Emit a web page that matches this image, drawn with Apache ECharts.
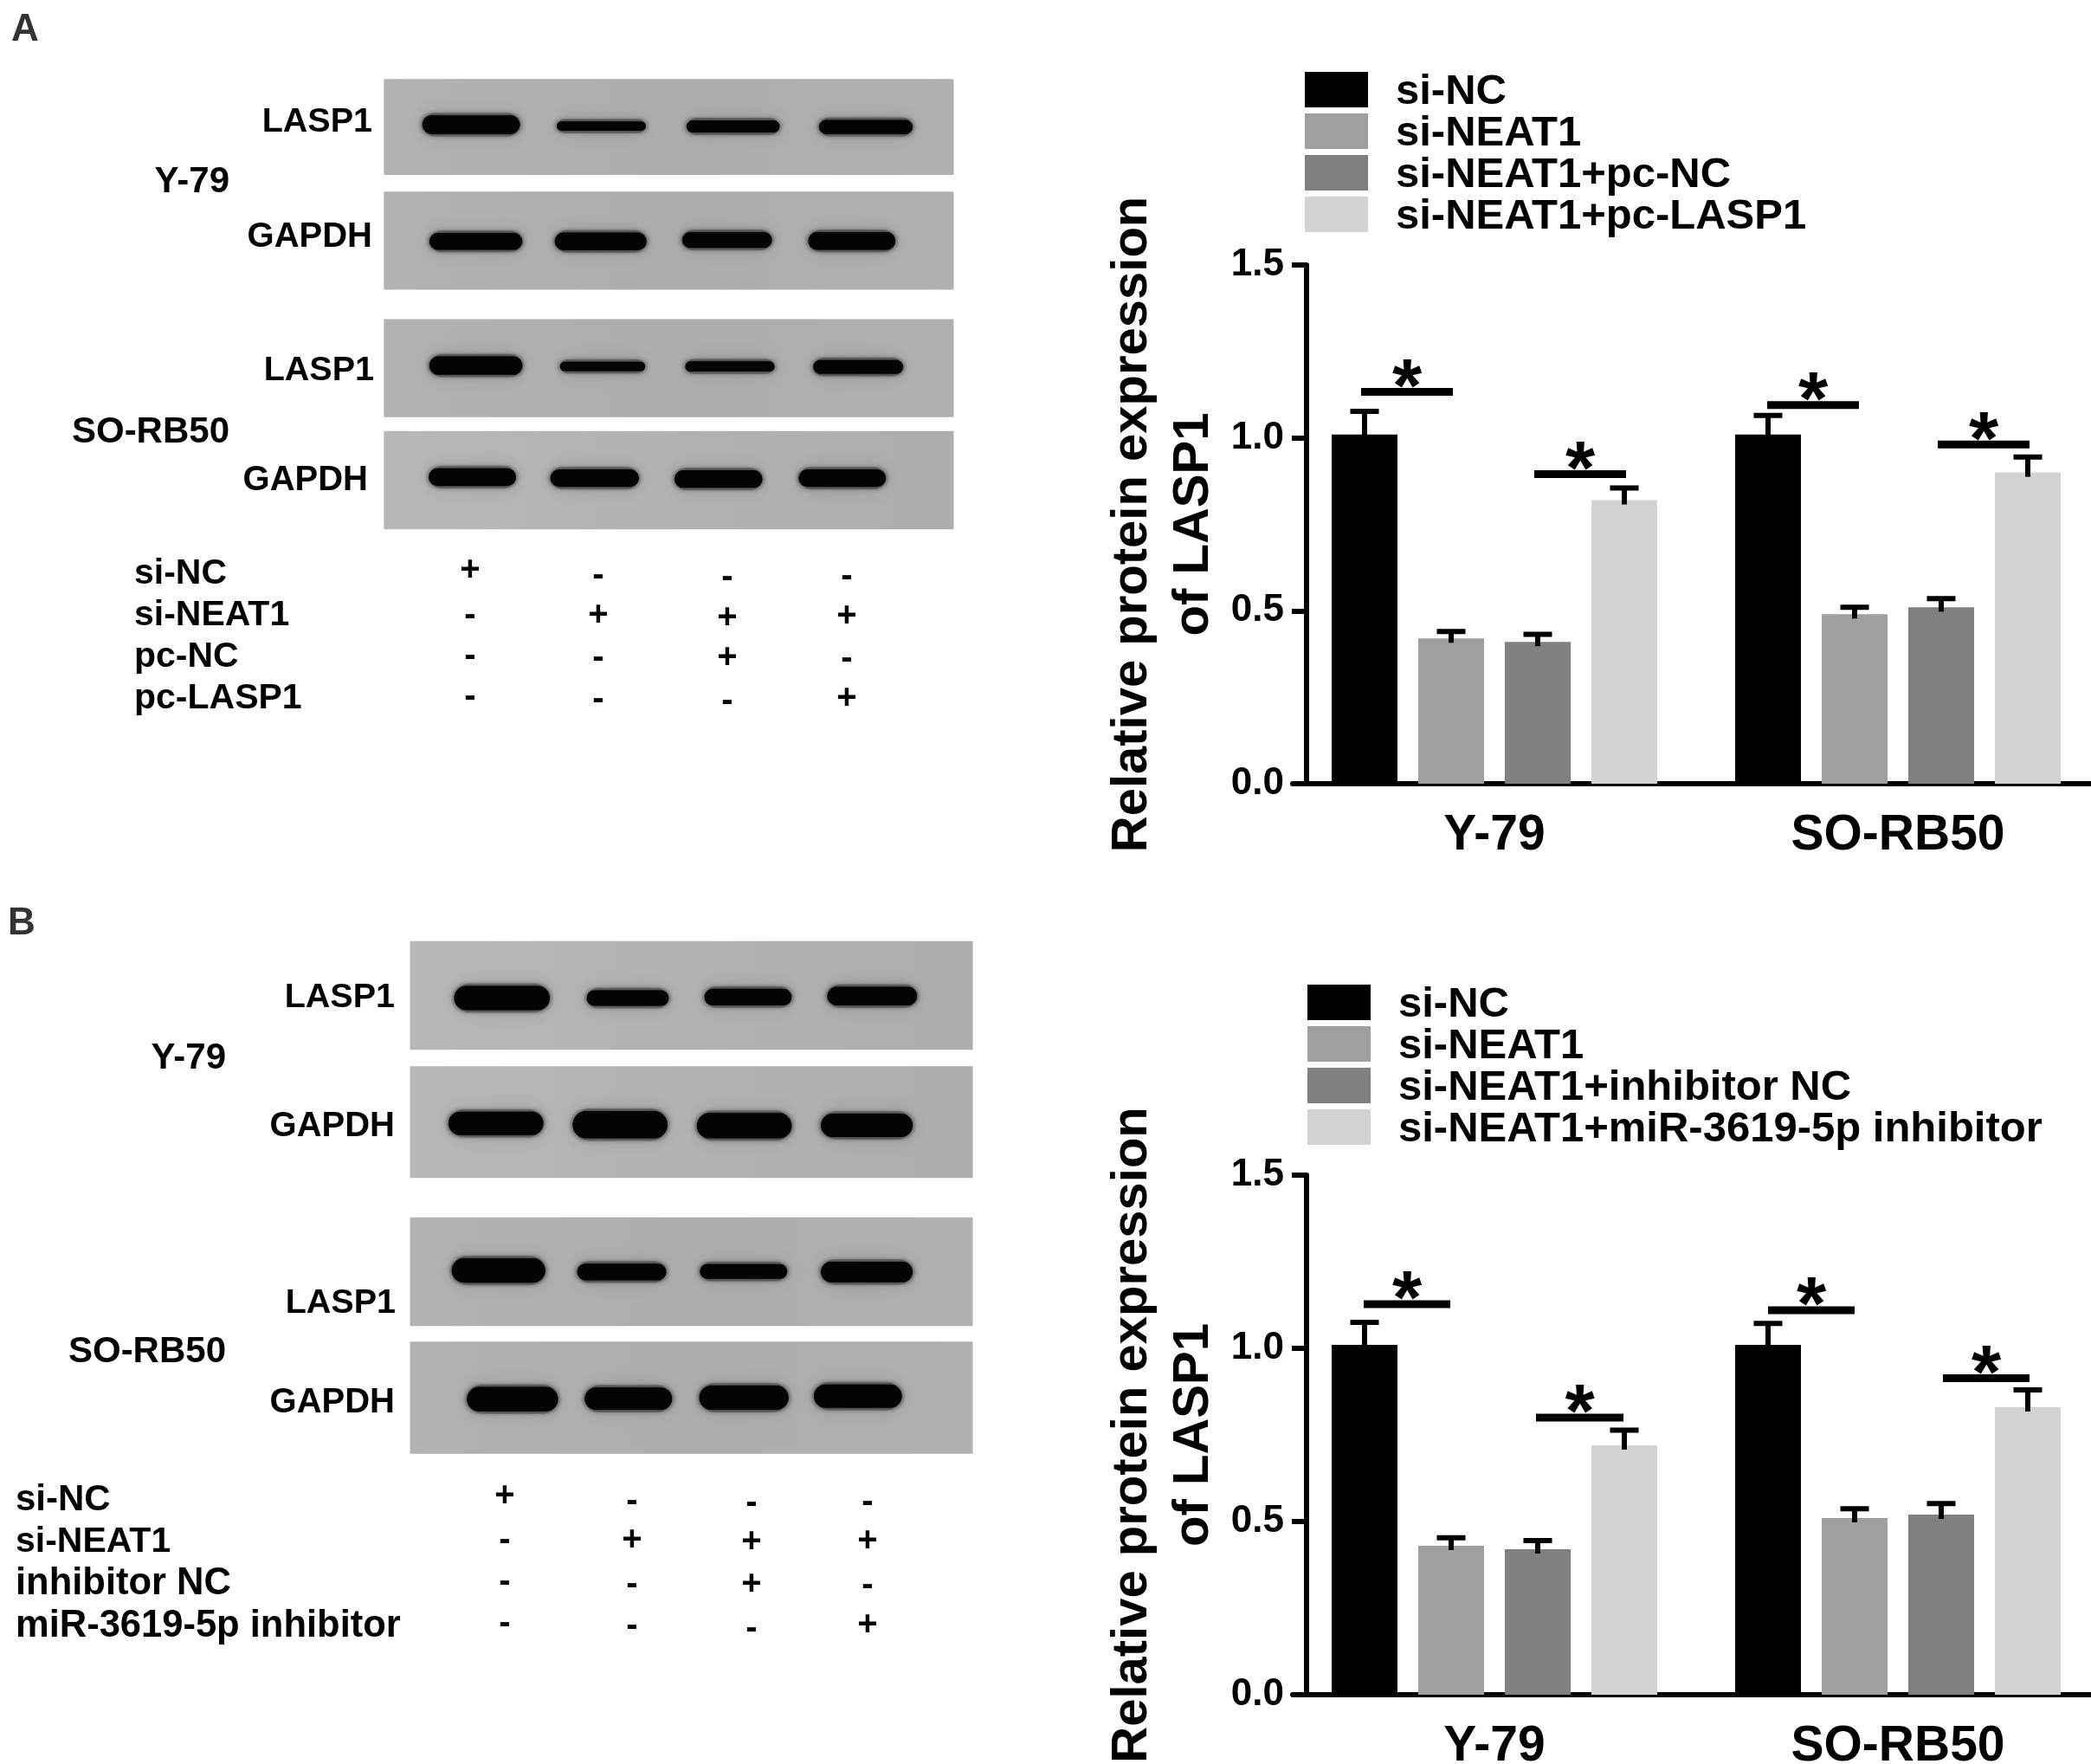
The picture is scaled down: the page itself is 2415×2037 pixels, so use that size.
<!DOCTYPE html>
<html><head><meta charset="utf-8">
<style>html,body{margin:0;padding:0;background:#fff}#c{width:2415px;height:2037px}</style>
<script src="https://cdn.jsdelivr.net/npm/echarts@6/dist/echarts.min.js"></script></head>
<body><div id="c"></div>
<script>
const FONT='"Liberation Sans", Arial, sans-serif';
const groups=['Y-79','SO-RB50'];
const yTitle='Relative protein expression\nof LASP1';
const colors=['#000000','#9f9fa2','#808080','#d3d3d3'];

// Panel A chart
const namesA=['si-NC','si-NEAT1','si-NEAT1+pc-NC','si-NEAT1+pc-LASP1'];
const a_siNC=[1.01,1.01], a_siNEAT=[0.42,0.49], a_pcNC=[0.41,0.51], a_pcLASP=[0.82,0.90];
const aErr_siNC=[1.077,1.065], aErr_siNEAT=[0.44,0.51], aErr_pcNC=[0.432,0.535], aErr_pcLASP=[0.855,0.945];
// [group, from-bar, to-bar, height]
const aSig=[[0,0,1,1.133],[0,2,3,0.895],[1,0.03,1.03,1.095],[1,2,3,0.981]];

// Panel B chart
const namesB=['si-NC','si-NEAT1','si-NEAT1+inhibitor NC','si-NEAT1+miR-3619-5p inhibitor'];
const b_siNC=[1.01,1.01], b_siNEAT=[0.43,0.51], b_inhNC=[0.42,0.52], b_miR=[0.72,0.83];
const bErr_siNC=[1.075,1.072], bErr_siNEAT=[0.453,0.537], bErr_inhNC=[0.445,0.552], bErr_miR=[0.764,0.88];
const bSig=[[0,0.03,0.97,1.1275],[0,2.02,2.97,0.80],[1,0.04,0.98,1.11],[1,2.06,3,0.914]];

// Treatment matrices
const rowsA=['si-NC','si-NEAT1','pc-NC','pc-LASP1'];
const signsA=[['+','-','-','-'],['-','+','+','+'],['-','-','+','-'],['-','-','-','+']];
const rowsB=['si-NC','si-NEAT1','inhibitor NC','miR-3619-5p inhibitor'];
const signsB=signsA;

const STEP=100/466;
function slotX(api,g,s){return api.coord([g,0])[0]+(s-1.5)*STEP*api.size([1,0])[0];}
function errItem(params,api){
  const g=api.value(0),s=api.value(1);
  const x=slotX(api,g,s);
  const yt=api.coord([g,api.value(2)])[1], yb=api.coord([g,api.value(3)])[1]+5;
  const st={stroke:'#000',lineWidth:6};
  return {type:'group',children:[
    {type:'line',shape:{x1:x,y1:yt,x2:x,y2:yb},style:st},
    {type:'line',shape:{x1:x-16.5,y1:yt,x2:x+16.5,y2:yt},style:st}]};
}
function sigItem(params,api){
  const g=api.value(0);
  const x1=slotX(api,g,api.value(1))-4, x2=slotX(api,g,api.value(2))+2;
  const y=api.coord([g,api.value(3)])[1];
  return {type:'group',children:[
    {type:'line',shape:{x1:x1,y1:y,x2:x2,y2:y},style:{stroke:'#000',lineWidth:9}},
    {type:'text',style:{text:'*',x:(x1+x2)/2,y:y-2,fontSize:88,fontWeight:'bold',fontFamily:FONT,fill:'#000',textAlign:'center',textVerticalAlign:'middle'}}]};
}
function buildCat(i,names,vals,errs,sig,out){
  names.forEach((n,k)=>{
    out.push({type:'bar',name:n,xAxisIndex:i,yAxisIndex:i,data:vals[k],barWidth:76,barGap:'31.6%',itemStyle:{color:colors[k]}});
  });
  const ed=[];
  errs.forEach((e,k)=>e.forEach((v,g)=>ed.push([g,k,v,vals[k][g]])));
  out.push({type:'custom',xAxisIndex:i,yAxisIndex:i,renderItem:errItem,data:ed,encode:{x:0,y:2},clip:false,z:5,silent:true});
  out.push({type:'custom',xAxisIndex:i,yAxisIndex:i,renderItem:sigItem,data:sig,encode:{x:0,y:3},clip:false,z:6,silent:true});
}
const series=[];
buildCat(0,namesA,[a_siNC,a_siNEAT,a_pcNC,a_pcLASP],[aErr_siNC,aErr_siNEAT,aErr_pcNC,aErr_pcLASP],aSig,series);
buildCat(1,namesB,[b_siNC,b_siNEAT,b_inhNC,b_miR],[bErr_siNC,bErr_siNEAT,bErr_inhNC,bErr_miR],bSig,series);

function xAx(i){return {type:'category',gridIndex:i,data:groups,
  axisLine:{lineStyle:{color:'#000',width:6}},
  axisTick:{alignWithLabel:true,length:17,lineStyle:{color:'#000',width:6}},
  axisLabel:{color:'#000',fontSize:57,fontFamily:FONT,fontWeight:'bold',margin:32}};}
function yAx(i){return {type:'value',gridIndex:i,min:0,max:1.5,interval:0.5,offset:-16,
  name:yTitle,nameLocation:'middle',nameGap:95,nameRotate:90,
  nameTextStyle:{color:'#000',fontSize:58,fontFamily:FONT,fontWeight:'bold',lineHeight:71,align:'center'},
  splitLine:{show:false},
  axisLine:{show:true,lineStyle:{color:'#000',width:6}},
  axisTick:{show:true,length:17,lineStyle:{color:'#000',width:6}},
  axisLabel:{color:'#000',fontSize:44,fontFamily:FONT,fontWeight:'bold',margin:26,formatter:v=>v.toFixed(1)}};}
function leg(names,left,top){return {orient:'vertical',left:left,top:top,padding:0,data:names,itemWidth:73,itemHeight:41,itemGap:-1,
  selectedMode:false,icon:'rect',formatter:n=>'{t|'+n+'}',
  textStyle:{color:'#000',fontSize:49,fontFamily:FONT,fontWeight:'bold',
    rich:{t:{color:'#000',fontSize:49,fontFamily:FONT,fontWeight:'bold',padding:[6,0,0,27]}}}};}

// ---- Western blots and labels, drawn as illustration ----
const g=[];
const font={fontFamily:FONT,fontWeight:'bold'};
function txt(t,x,y,size,align,fill){g.push({type:'text',silent:true,style:{text:t,x:x,y:y+1.5,fontSize:size,...font,fill:fill||'#000',textAlign:align||'left',textVerticalAlign:'middle'}});}
function panel(x0,x1,y0,y1,tone){
  g.push({type:'rect',silent:true,shape:{x:x0,y:y0,width:x1-x0,height:y1-y0},
    style:{fill:new echarts.graphic.LinearGradient(0,0,1,0,[{offset:0,color:tone[0]},{offset:0.5,color:tone[1]},{offset:1,color:tone[2]}])}});
}
function band(xs,xe,yc,h){
  g.push({type:'rect',silent:true,shape:{x:xs+2,y:yc-h/2-3,width:xe-xs-4,height:h+6,r:(h+6)/2},
    style:{fill:'rgba(60,60,60,0.35)',shadowBlur:22,shadowColor:'rgba(40,40,40,0.45)'}});
  g.push({type:'rect',silent:true,shape:{x:xs+1,y:yc-h/2,width:xe-xs-2,height:h,r:h/2},
    style:{fill:'#040404',shadowBlur:6,shadowColor:'rgba(0,0,0,0.9)'}});
}
function blot(ox,oy,sx,sy,panels){
  panels.forEach(p=>{
    panel(p[0]/sx+ox,p[1]/sx+ox,p[2]/sy+oy,p[3]/sy+oy,p[4]);
    p[5].forEach(b=>band(b[0]/sx+ox,b[1]/sx+ox,b[2]/sy+oy,b[3]/sy));
  });
}
const toneL=['#b2b2b2','#adadad','#b0b0b0'], toneM=['#b8b8b8','#b2b2b2','#adadad'];
blot(0,0,1.36,1.862,[
 [603,1498,170,376,toneL,[[662,818,268,40],[873,1016,271,20],[1077,1226,272,26],[1285,1435,273,30]]],
 [603,1498,412,623,toneL,[[673,822,519,36],[870,1017,519,38],[1070,1214,516,34],[1268,1408,518,38]]],
 [603,1498,686,897,toneL,[[673,822,786,40],[878,1015,788,20],[1075,1218,788,22],[1276,1420,789,30]]],
 [603,1498,927,1138,toneM,[[672,812,1026,38],[863,1005,1028,38],[1058,1199,1030,38],[1253,1393,1028,38]]]
]);
blot(0,1040,1.36,1.777,[
 [644,1528,83,306,toneM,[[712,865,200,50],[920,1052,200,32],[1105,1245,198,34],[1298,1442,196,38]]],
 [644,1528,340,569,toneM,[[703,855,457,48],[898,1050,460,56],[1093,1245,462,52],[1288,1435,461,48]]],
 [644,1528,650,873,toneL,[[708,858,759,50],[905,1048,762,34],[1098,1238,761,30],[1288,1435,762,42]]],
 [644,1528,905,1135,toneL,[[732,878,1023,50],[917,1057,1022,46],[1097,1240,1020,50],[1277,1418,1017,48]]]
]);
txt('A',13,33,44,'left','#333');
txt('B',9,1065,44,'left','#333');
[['LASP1',430,140,39.5],['GAPDH',430,272,40],['LASP1',432,427,39.5],['GAPDH',425,553,40],
 ['Y-79',265,209,42],['SO-RB50',265,498,42]].forEach(t=>txt(t[0],t[1],t[2],t[3],'right'));
[['LASP1',456,1151,39.5],['GAPDH',456,1299,40],['LASP1',457,1504,39.5],['GAPDH',456,1618,40],
 ['Y-79',261,1221,42],['SO-RB50',261,1560,42]].forEach(t=>txt(t[0],t[1],t[2],t[3],'right'));
const rowYA=[661.5,709.5,757.5,805.5], colXA=[543,691,840,978];
const cellDYA=[[-4,2,4,3],[0,0,3,1],[-1,1,1,2],[-2,1,3,0]];
rowsA.forEach((r,i)=>{txt(r,155,rowYA[i],41,'left');
  signsA[i].forEach((s,j)=>txt(s,colXA[j],rowYA[i]+cellDYA[i][j],40,'center'));});
const rowYB=[1731,1779,1827,1876], colXB=[583,730,868,1002];
const fontRowB=[42,41,43.5,43.5];
const cellDYB=[[-5,1,3,2],[-2,-2,0,-1],[-2,1,1,2],[-3,0,3,-1]];
rowsB.forEach((r,i)=>{txt(r,18,rowYB[i],fontRowB[i],'left');
  signsB[i].forEach((s,j)=>txt(s,colXB[j],rowYB[i]+cellDYB[i][j],40,'center'));});

const chart=echarts.init(document.getElementById('c'),null,{renderer:'canvas'});
chart.setOption({
  animation:false,backgroundColor:'#fff',
  grid:[{left:1493,width:932,top:306,height:599,outerBoundsMode:'none'},{left:1493,width:932,top:1357,height:600,outerBoundsMode:'none'}],
  xAxis:[xAx(0),xAx(1)],yAxis:[yAx(0),yAx(1)],
  legend:[leg(namesA,1507,82),leg(namesB,1510,1136)],
  series:series,graphic:g
});
</script></body></html>
